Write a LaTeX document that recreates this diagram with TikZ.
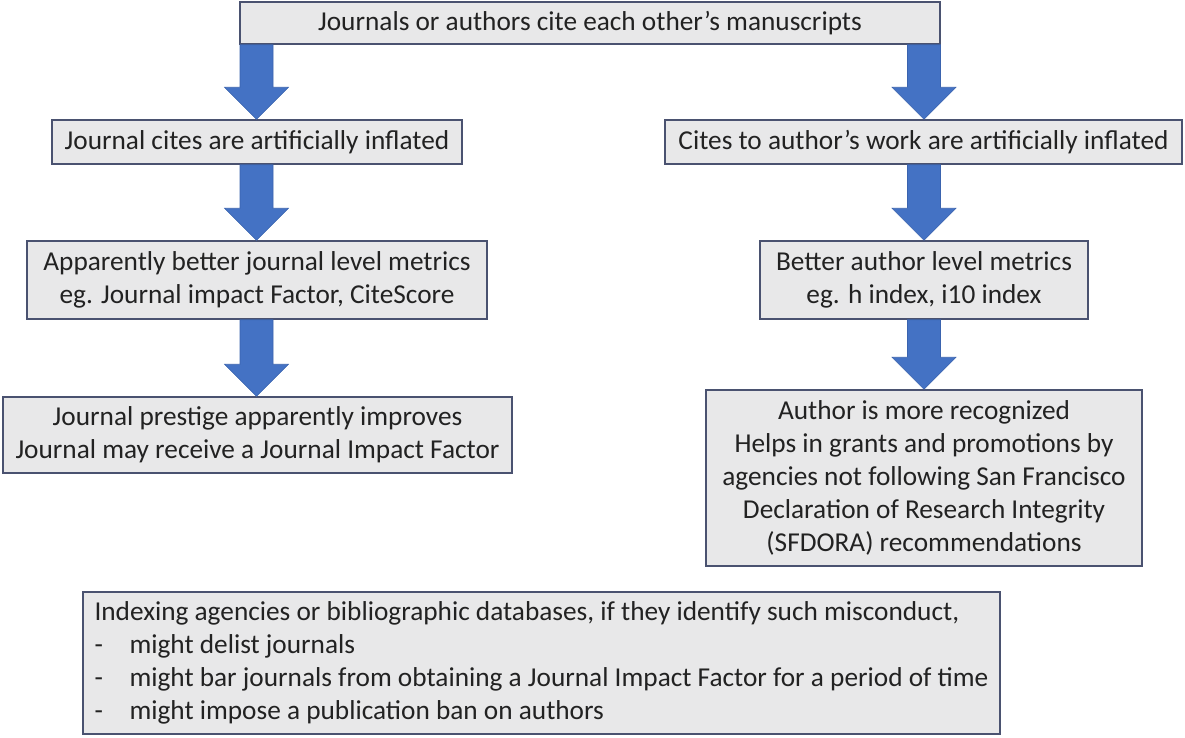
\documentclass[tikz,border=0pt]{standalone}
\usepackage{fontspec}
\setmainfont{Carlito}
\usetikzlibrary{calc}
\definecolor{boxfill}{HTML}{E8E8E9}
\definecolor{boxline}{HTML}{4A5270}
\definecolor{arrowblue}{HTML}{4472C4}
\definecolor{arrowedge}{HTML}{3A63AE}
\definecolor{txt}{HTML}{222222}
\tikzset{
  box/.style={draw=boxline, fill=boxfill, line width=1.5pt, inner sep=2pt, align=center, text=txt,
    font=\fontsize{27.3}{33}\selectfont},
  blockarrowstyle/.style={fill=arrowblue, draw=arrowedge, line width=0.6pt},
}
\newcommand{\myblockarrow}[3]{%
  \path[blockarrowstyle] let \p1=(#2.south), \p2=(#3.north) in
   (#1pt-16.5pt,\y1) -- (#1pt+16.5pt,\y1) -- (#1pt+16.5pt,\y2+32pt) -- (#1pt+32pt,\y2+32pt)
   -- (#1pt,\y2) -- (#1pt-32pt,\y2+32pt) -- (#1pt-16.5pt,\y2+32pt) -- cycle;}
\begin{document}
\begin{tikzpicture}[x=1pt,y=-1pt]
\useasboundingbox (0,0) rectangle (1185,737);
\node[box, minimum width=700pt, minimum height=42pt] (top) at (590,23)
  {Journals or authors cite each other’s manuscripts};
\node[box, minimum width=410pt, minimum height=44pt] (jc) at (257,142) {Journal cites are artificially inflated};
\node[box, minimum width=460pt, minimum height=78pt] (jm) at (257,280) {Apparently better journal level metrics\\eg. Journal impact Factor, CiteScore};
\node[box, minimum width=509pt, minimum height=76pt] (jp) at (257.5,435) {Journal prestige apparently improves\\Journal may receive a Journal Impact Factor};
\node[box, minimum width=517pt, minimum height=44pt] (ca) at (923.5,142) {Cites to author’s work are artificially inflated};
\node[box, minimum width=328pt, minimum height=78pt] (am) at (924,280) {Better author level metrics\\eg. h index, i10 index};
\node[box, minimum width=436pt, minimum height=176pt] (ar) at (924,478) {Author is more recognized\\Helps in grants and promotions by\\agencies not following San Francisco\\Declaration of Research Integrity\\(SFDORA) recommendations};
\node[box, minimum width=917pt, minimum height=142pt, align=left] (ix) at (541.5,663)
  {Indexing agencies or bibliographic databases, if they identify such misconduct,\\
   \makebox[35pt][l]{-}might delist journals\\
   \makebox[35pt][l]{-}might bar journals from obtaining a Journal Impact Factor for a period of time\\
   \makebox[35pt][l]{-}might impose a publication ban on authors};
\myblockarrow{256.5}{top}{jc}
\myblockarrow{256.5}{jc}{jm}
\myblockarrow{256.5}{jm}{jp}
\myblockarrow{924}{top}{ca}
\myblockarrow{924}{ca}{am}
\myblockarrow{924}{am}{ar}
\end{tikzpicture}
\end{document}
